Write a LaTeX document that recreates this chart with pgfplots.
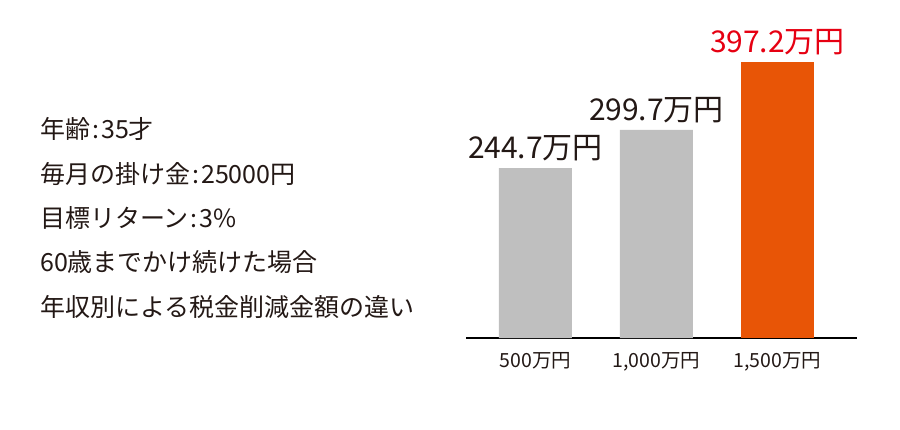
\documentclass[border=0pt]{standalone}
\usepackage{pgfplots}
\pgfplotsset{compat=1.18}
\usepackage{fontspec}
\setmainfont{Noto Sans CJK JP}
\definecolor{txt}{HTML}{231815}
\definecolor{barg}{HTML}{BFBFBF}
\definecolor{baro}{HTML}{E85506}
\definecolor{lred}{HTML}{E60012}
\newcommand{\cl}{\hspace{2bp}:\hspace{2bp}}
\begin{document}
\begin{tikzpicture}[x=1bp,y=1bp]
\useasboundingbox (0,0) rectangle (900,429);
\foreach \t/\y in {{年齢\cl 35才}/129,{毎月の掛け金\cl 25000円}/174,{目標リターン\cl 3\%}/218,{60歳までかけ続けた場合}/262,{年収別による税金削減金額の違い}/307}{
  \node[anchor=west,inner sep=0,font=\fontsize{25bp}{30bp}\selectfont,text=txt] at (40,429-\y) {\t};
}
\begin{axis}[
  at={(466bp,91bp)}, anchor=south west,
  scale only axis, width=391bp, height=305.4bp,
  xmin=-0.574, xmax=2.657, ymin=0, ymax=440,
  axis x line*=bottom, axis y line=none,
  axis line style={-, line width=1.6bp, black},
  xtick={0,1,2}, xticklabels={500万円,{1,000万円},{1,500万円}},
  major tick length=0,
  xticklabel style={font=\fontsize{19.5bp}{22bp}\selectfont, text=txt, yshift=-11bp},
  ybar, bar width=73bp, bar shift=0pt,
  nodes near coords={\pgfmathprintnumber[fixed,precision=1,fixed zerofill,assume math mode=true]{\pgfplotspointmeta}万円},
  every node near coord/.append style={font=\fontsize{30bp}{34bp}\selectfont, text=txt, anchor=south, yshift=4bp},
  clip=false,
]
\addplot[fill=barg, draw=none] coordinates {(0,244.7) (1,299.7)};
\addplot[fill=baro, draw=none, every node near coord/.append style={text=lred}] coordinates {(2,397.2)};
\end{axis}
\end{tikzpicture}
\end{document}
